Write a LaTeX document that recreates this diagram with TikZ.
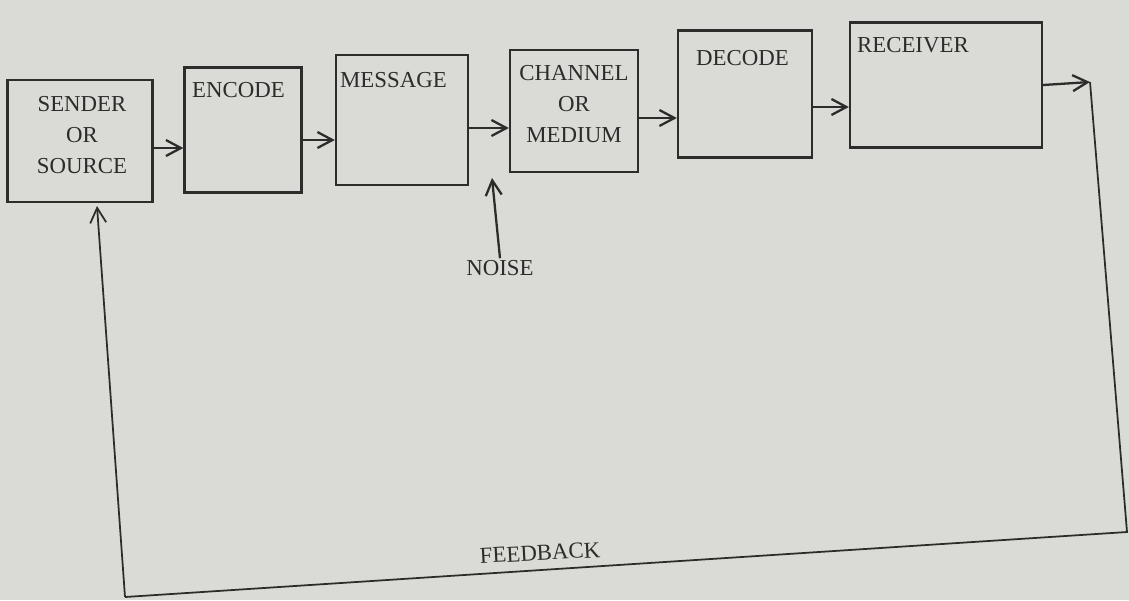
\documentclass[tikz,border=0pt]{standalone}
\usepackage{fontspec}
\setmainfont{Liberation Serif}
\usetikzlibrary{arrows.meta, positioning, calc}
\definecolor{paper}{RGB}{218,218,215}
\definecolor{ink}{RGB}{44,44,42}

\begin{document}
\begin{tikzpicture}[x=0.02cm, y=-0.02cm,
  box/.style={draw=ink, line width=1.35pt},
  lbl/.style={text=ink, font=\fontsize{13}{17.5}\selectfont, align=center, inner sep=1pt},
  flow/.style={draw=ink, line width=1.3pt, -{Straight Barb[length=3mm, width=3.2mm]}},
  fb/.style={draw=ink, line width=1pt}]
  \fill[paper] (0,0) rectangle (1129,600);
  \useasboundingbox (0,0) rectangle (1129,600);
  % boxes
  \node[box, minimum width=2.9cm, minimum height=2.44cm] (sender) at (80,141) {};
  \node[box, minimum width=2.34cm, minimum height=2.5cm] (encode) at (243,130) {};
  \node[box, minimum width=2.64cm, minimum height=2.6cm] (message) at (402,120) {};
  \node[box, minimum width=2.56cm, minimum height=2.44cm] (channel) at (574,111) {};
  \node[box, minimum width=2.68cm, minimum height=2.54cm] (decode) at (745,94) {};
  \node[box, minimum width=3.84cm, minimum height=2.5cm] (receiver) at (946,85) {};
  % texts
  \node[lbl] (tsender) at (82,135) {SENDER\\OR\\SOURCE};
  \node[lbl, anchor=west] (tencode) at (190,90) {ENCODE};
  \node[lbl, anchor=west] (tmessage) at (338,80) {MESSAGE};
  \node[lbl] (tchannel) at (574,104) {CHANNEL\\OR\\MEDIUM};
  \node[lbl, anchor=west] (tdecode) at (694,58) {DECODE};
  \node[lbl, anchor=west] (treceiver) at (855,45) {RECEIVER};
  \node[lbl] (noise) at (500,268) {NOISE};
  \node[lbl, rotate=3] (tfeedback) at (540,553) {FEEDBACK};
  % corners of the feedback loop
  \coordinate (rc1) at (1090,82);
  \coordinate (rc2) at (1127,532);
  \coordinate (rc3) at (125,597);
  \coordinate (sin) at (97,206);
  \coordinate (gap) at (492,178);
  % forward flow
  \draw[flow] (sender.east |- 0,148) -- (encode.west |- 0,148);
  \draw[flow] (encode.east |- 0,140) -- (message.west |- 0,140);
  \draw[flow] (message.east |- 0,128) -- (channel.west |- 0,128);
  \draw[flow] (channel.east |- 0,118) -- (decode.west |- 0,118);
  \draw[flow] (decode.east |- 0,107) -- (receiver.west |- 0,107);
  \draw[flow] (receiver.east |- 0,85) -- (rc1);
  \draw[flow] (noise.north) -- (gap);
  % feedback
  \draw[fb] (rc1) -- (rc2) -- (rc3);
  \draw[fb, -{Straight Barb[length=3mm, width=3.2mm]}] (rc3) -- (sin);
\end{tikzpicture}
\end{document}
